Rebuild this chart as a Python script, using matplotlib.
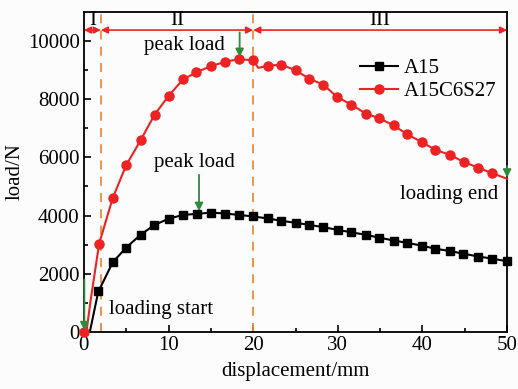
import matplotlib.pyplot as plt

plt.rcParams['font.family'] = ['Liberation Serif', 'DejaVu Serif']

# A15 curve (line points, markers drawn on a subset)
a15_x = [0.7, 1.7, 2.3, 3.4, 5.0, 6.7, 8.3, 10.0, 11.7, 13.4, 15.0, 16.7, 18.3, 20.0,
         21.7, 23.3, 25.0, 26.6, 28.3, 30.0, 31.6, 33.3, 34.9, 36.6, 38.2, 39.9,
         41.5, 43.2, 44.8, 46.6, 48.2, 50.0]
a15_y = [0, 1390, 1735, 2390, 2900, 3340, 3670, 3890, 4020, 4060, 4100, 4070, 4020, 3970,
         3900, 3820, 3750, 3680, 3600, 3505, 3425, 3335, 3240, 3140, 3060, 2965,
         2860, 2780, 2690, 2590, 2520, 2425]
a15_marks = [i for i in range(len(a15_x)) if i not in (0, 2)]

# A15C6S27 curve
c6_x = [0, 0.3, 0.8, 1.8, 3.4, 5.0, 6.7, 8.35, 10.0, 11.7, 13.3, 15.0, 16.7, 18.3, 20.0,
        20.6, 21.7, 23.3, 25.0, 26.6, 28.3, 29.9, 31.6, 33.3, 34.9, 36.6, 38.2, 39.9,
        41.5, 43.3, 44.9, 46.6, 48.2, 50.0]
c6_y = [0, 0, 1100, 3030, 4600, 5735, 6590, 7470, 8115, 8680, 8930, 9140, 9290, 9380, 9340,
        9080, 9150, 9190, 9000, 8710, 8500, 8080, 7815, 7505, 7345, 7100, 6795, 6530,
        6265, 6080, 5840, 5645, 5460, 5265]
c6_marks = [i for i in range(len(c6_x)) if i not in (1, 2, 15, len(c6_x) - 1)]

stage_bounds = [0, 2, 20, 50]
stage_names = ["I", "II", "III"]

fs = 15

fig = plt.figure(figsize=(5.18, 3.89), dpi=100)
fig.patch.set_facecolor('#fcfcfc')
ax = fig.add_axes([0.162, 0.147, 0.817, 0.822])
ax.set_facecolor('#fcfcfc')

ax.plot(a15_x, a15_y, color='black', lw=1.5, marker='s', ms=6,
        markevery=a15_marks, label='A15', clip_on=False, zorder=3)
ax.plot(c6_x, c6_y, color='#ee2222', lw=1.5, marker='o', ms=6.5,
        markevery=c6_marks, label='A15C6S27', clip_on=False, zorder=4)

for xb in stage_bounds[1:3]:
    ax.axvline(xb, color='#f08a3c', ls=(0, (5, 4)), lw=1.3, zorder=2)

arrow_y = 10380
for i, name in enumerate(stage_names):
    x0, x1 = stage_bounds[i], stage_bounds[i + 1]
    ax.annotate('', xy=(x1, arrow_y), xytext=(x0, arrow_y),
                arrowprops=dict(arrowstyle='<|-|>', color='#ee2222', lw=1.2,
                                shrinkA=0, shrinkB=0, mutation_scale=10))
    ax.text((x0 + x1) / 2, arrow_y + 20, name, ha='center', va='bottom', fontsize=fs)

green = '#2e8b3e'
arrows = [((18.4, 10300), (18.4, 9450)), ((13.6, 5400), (13.6, 4150)),
          ((50, 5700), (50, 5300)), ((0.05, 1800), (0.05, 50))]
for start, end in arrows:
    ax.annotate('', xy=end, xytext=start,
                arrowprops=dict(arrowstyle='-|>', color=green, lw=1.3,
                                shrinkA=0, shrinkB=0, mutation_scale=12),
                annotation_clip=False, zorder=5)

ax.text(11.9, 9840, 'peak load', ha='center', va='center', fontsize=fs)
ax.text(13.1, 5820, 'peak load', ha='center', va='center', fontsize=fs)
ax.text(43.1, 4720, 'loading end', ha='center', va='center', fontsize=fs)
ax.text(9.1, 760, 'loading start', ha='center', va='center', fontsize=fs)

ax.set_xlim(0, 50)
ax.set_ylim(0, 11000)
ax.set_xticks(range(0, 51, 10))
ax.set_xticks(range(5, 50, 10), minor=True)
ax.set_yticks(range(0, 10001, 2000))
ax.set_yticks(range(1000, 11000, 2000), minor=True)
ax.tick_params(which='both', direction='in', labelsize=fs, width=1.2)
ax.tick_params(which='major', length=5, pad=3)
ax.tick_params(which='minor', length=3)
for s in ax.spines.values():
    s.set_linewidth(1.3)

ax.set_xlabel('displacement/mm', fontsize=fs, labelpad=5)
ax.set_ylabel('load/N', fontsize=fs, labelpad=2)

ax.legend(loc='upper right', bbox_to_anchor=(0.995, 0.88), frameon=False, fontsize=fs,
          handlelength=1.8, handletextpad=0.3, labelspacing=0.15, borderaxespad=0)

fig.savefig('out.png', dpi=100, facecolor=fig.get_facecolor())
